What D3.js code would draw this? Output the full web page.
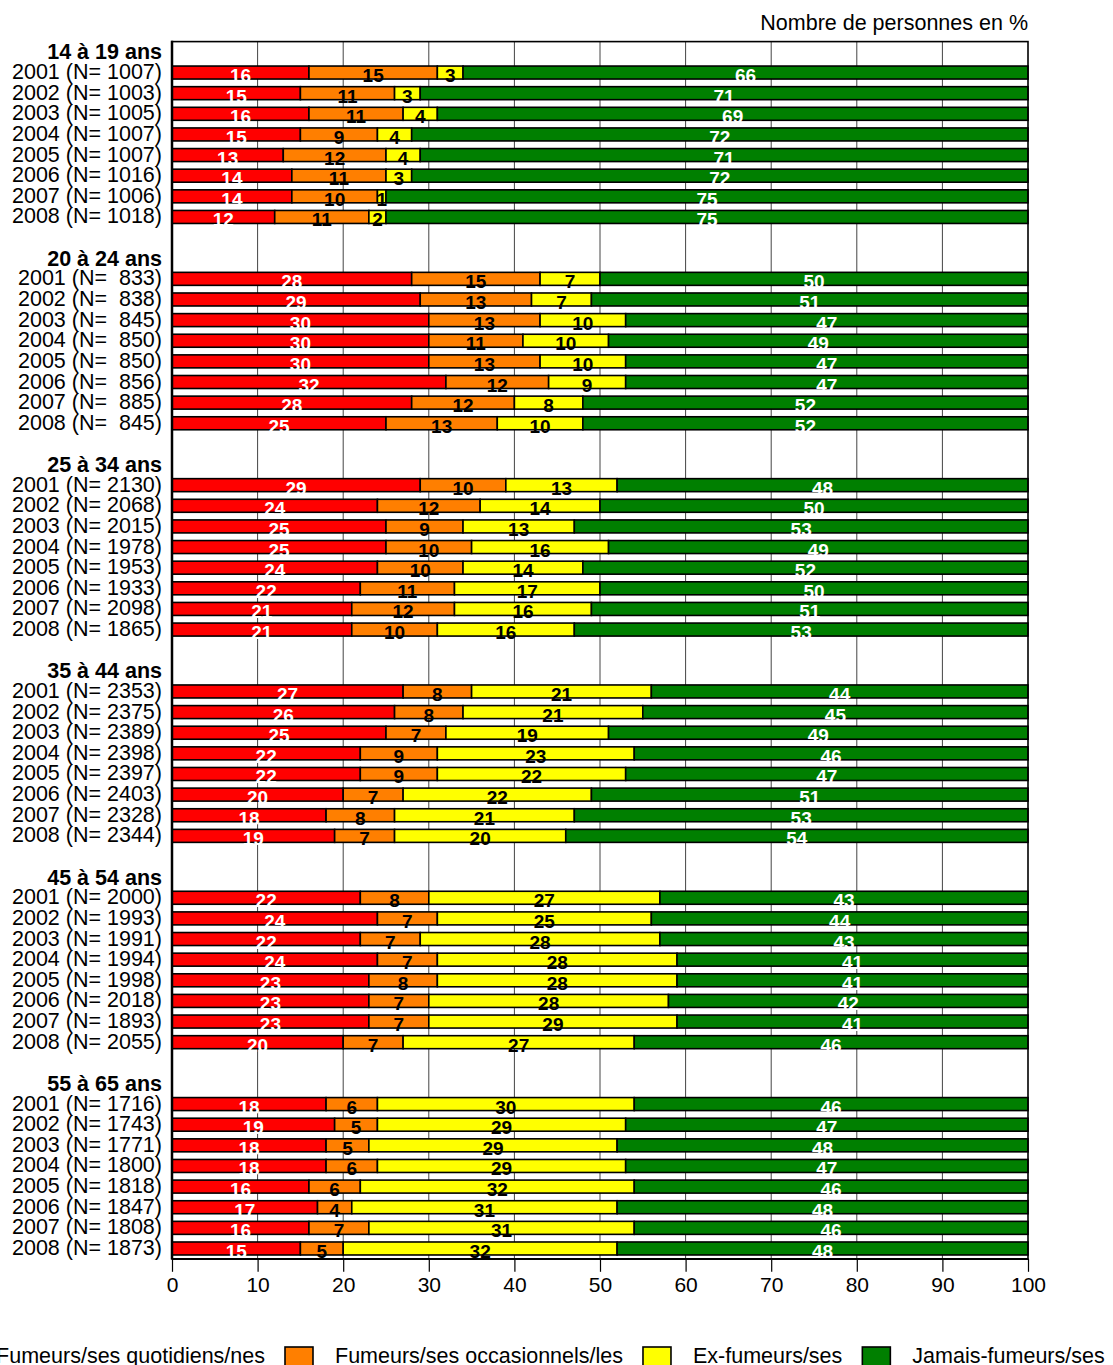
<!DOCTYPE html>
<html>
<head>
<meta charset="utf-8">
<script src="https://cdn.jsdelivr.net/npm/d3@7"></script>
<style>
  html, body { margin: 0; padding: 0; background: #fff; }
  svg { display: block; font-family: "Liberation Sans", Arial, Helvetica, sans-serif; }
  text { white-space: pre; }
</style>
</head>
<body>
<svg id="chart" width="1113" height="1365"></svg>
<script>
const groups = ["14 à 19 ans", "20 à 24 ans", "25 à 34 ans", "35 à 44 ans", "45 à 54 ans", "55 à 65 ans"];
const years = ["2001", "2002", "2003", "2004", "2005", "2006", "2007", "2008"];
const nValues = [
  [1007, 1003, 1005, 1007, 1007, 1016, 1006, 1018],
  [833, 838, 845, 850, 850, 856, 885, 845],
  [2130, 2068, 2015, 1978, 1953, 1933, 2098, 1865],
  [2353, 2375, 2389, 2398, 2397, 2403, 2328, 2344],
  [2000, 1993, 1991, 1994, 1998, 2018, 1893, 2055],
  [1716, 1743, 1771, 1800, 1818, 1847, 1808, 1873]
];
const daily = [
  [16, 15, 16, 15, 13, 14, 14, 12],
  [28, 29, 30, 30, 30, 32, 28, 25],
  [29, 24, 25, 25, 24, 22, 21, 21],
  [27, 26, 25, 22, 22, 20, 18, 19],
  [22, 24, 22, 24, 23, 23, 23, 20],
  [18, 19, 18, 18, 16, 17, 16, 15]
];
const occasional = [
  [15, 11, 11, 9, 12, 11, 10, 11],
  [15, 13, 13, 11, 13, 12, 12, 13],
  [10, 12, 9, 10, 10, 11, 12, 10],
  [8, 8, 7, 9, 9, 7, 8, 7],
  [8, 7, 7, 7, 8, 7, 7, 7],
  [6, 5, 5, 6, 6, 4, 7, 5]
];
const former = [
  [3, 3, 4, 4, 4, 3, 1, 2],
  [7, 7, 10, 10, 10, 9, 8, 10],
  [13, 14, 13, 16, 14, 17, 16, 16],
  [21, 21, 19, 23, 22, 22, 21, 20],
  [27, 25, 28, 28, 28, 28, 29, 27],
  [30, 29, 29, 29, 32, 31, 31, 32]
];
const never = [
  [66, 71, 69, 72, 71, 72, 75, 75],
  [50, 51, 47, 49, 47, 47, 52, 52],
  [48, 50, 53, 49, 52, 50, 51, 53],
  [44, 45, 49, 46, 47, 51, 53, 54],
  [43, 44, 43, 41, 41, 42, 41, 46],
  [46, 47, 48, 47, 46, 48, 46, 48]
];
const seriesNames = ["Fumeurs/ses quotidiens/nes", "Fumeurs/ses occasionnels/les", "Ex-fumeurs/ses", "Jamais-fumeurs/ses"];
const seriesColors = ["#ff0000", "#ff7f00", "#ffff00", "#007f00"];
const labelColors = ["#ffffff", "#000000", "#000000", "#ffffff"];
const xTicks = [0, 10, 20, 30, 40, 50, 60, 70, 80, 90, 100];
const axisTitle = "Nombre de personnes en %";

const seriesData = [daily, occasional, former, never];

// build slot list: per group header + 8 rows + spacer (no spacer after last)
const slots = [];
groups.forEach((g, gi) => {
  slots.push({ key: "h" + gi, type: "header", label: g });
  years.forEach((yr, yi) => {
    const n = nValues[gi][yi];
    const nStr = String(n).padStart(4, " ");
    slots.push({ key: "r" + gi + "_" + yi, type: "row", gi, yi, label: yr + " (N= " + nStr + ")" });
  });
  if (gi < groups.length - 1) slots.push({ key: "s" + gi, type: "spacer" });
});

const svg = d3.select("#chart");
const pLeft = 172, pRight = 1028, pTop = 41.6, pBottom = 1258.8;

const x = d3.scaleLinear().domain([0, 100]).range([pLeft, pRight]);
const y = d3.scaleBand().domain(slots.map(s => s.key)).range([pTop, pBottom])
  .paddingInner(0.37).paddingOuter(0.185);

// plot background + gridlines
svg.append("rect").attr("x", pLeft).attr("y", pTop).attr("width", pRight - pLeft).attr("height", pBottom - pTop)
  .attr("fill", "#fff");
svg.append("g").selectAll("line").data(xTicks.filter(t => t > 0 && t < 100)).join("line")
  .attr("x1", d => x(d)).attr("x2", d => x(d))
  .attr("y1", pTop).attr("y2", pBottom)
  .attr("stroke", "#444").attr("stroke-width", 1);

// bars
const rows = slots.filter(s => s.type === "row");
const segs = [];
rows.forEach(r => {
  let cum = 0;
  seriesData.forEach((sd, si) => {
    const v = sd[r.gi][r.yi];
    segs.push({ key: r.key, si, x0: cum, x1: cum + v, v });
    cum += v;
  });
});

svg.append("g").selectAll("rect").data(segs).join("rect")
  .attr("x", d => x(d.x0))
  .attr("y", d => y(d.key))
  .attr("width", d => x(d.x1) - x(d.x0))
  .attr("height", y.bandwidth())
  .attr("fill", d => seriesColors[d.si])
  .attr("stroke", "#000").attr("stroke-width", 1.6);

// value labels
svg.append("g").selectAll("text").data(segs).join("text")
  .attr("x", d => x((d.x0 + d.x1) / 2))
  .attr("y", d => y(d.key) + y.bandwidth() + 3)
  .attr("text-anchor", "middle")
  .attr("font-size", 19).attr("font-weight", "bold")
  .attr("fill", d => labelColors[d.si])
  .text(d => d.v);

// frame
svg.append("rect").attr("x", pLeft).attr("y", pTop).attr("width", pRight - pLeft).attr("height", pBottom - pTop)
  .attr("fill", "none").attr("stroke", "#000").attr("stroke-width", 1.6);
svg.append("line").attr("x1", pLeft).attr("x2", pLeft).attr("y1", pTop - 0.8).attr("y2", pBottom + 0.8)
  .attr("stroke", "#000").attr("stroke-width", 2.5);

// row labels and headers
svg.append("g").selectAll("text").data(slots.filter(s => s.type !== "spacer")).join("text")
  .attr("x", 162)
  .attr("y", d => y(d.key) + y.bandwidth() / 2 + (d.type === "header" ? 7.5 : 6.5))
  .attr("text-anchor", "end")
  .attr("font-size", 21.5)
  .attr("font-weight", d => d.type === "header" ? "bold" : "normal")
  .attr("fill", "#000")
  .text(d => d.label);

// x axis
const axis = d3.axisBottom(x).tickValues(xTicks).tickSize(13).tickPadding(5).tickSizeOuter(0);
const ax = svg.append("g").attr("transform", `translate(0,${pBottom})`).call(axis);
ax.select(".domain").attr("stroke", "#000").attr("stroke-width", 1.6);
ax.selectAll(".tick line").attr("stroke", "#000").attr("stroke-width", 1.2);
ax.selectAll(".tick text").attr("font-size", 21).attr("fill", "#000")
  .attr("font-family", '"Liberation Sans", Arial, sans-serif');

// axis title
svg.append("text").attr("x", pRight).attr("y", 30).attr("text-anchor", "end")
  .attr("font-size", 21.5).attr("fill", "#000").text(axisTitle);

// legend
const leg = svg.append("g");
const boxW = 28, boxH = 20, gapBoxText = 22, gapTextBox = 20, legY = 1347;
const tmp = leg.append("text").attr("font-size", 21.5).text(seriesNames[0]);
const w0 = tmp.node().getComputedTextLength();
tmp.remove();
let cx = 285 - gapTextBox - w0 - gapBoxText - boxW;
seriesNames.forEach((name, i) => {
  leg.append("rect").attr("x", cx).attr("y", legY).attr("width", boxW).attr("height", boxH)
    .attr("fill", seriesColors[i]).attr("stroke", "#000").attr("stroke-width", 1.6);
  cx += boxW + gapBoxText;
  const t = leg.append("text").attr("x", cx).attr("y", 1363).attr("font-size", 21.5)
    .attr("fill", "#000").text(name);
  cx += t.node().getComputedTextLength() + gapTextBox;
});
</script>
</body>
</html>
